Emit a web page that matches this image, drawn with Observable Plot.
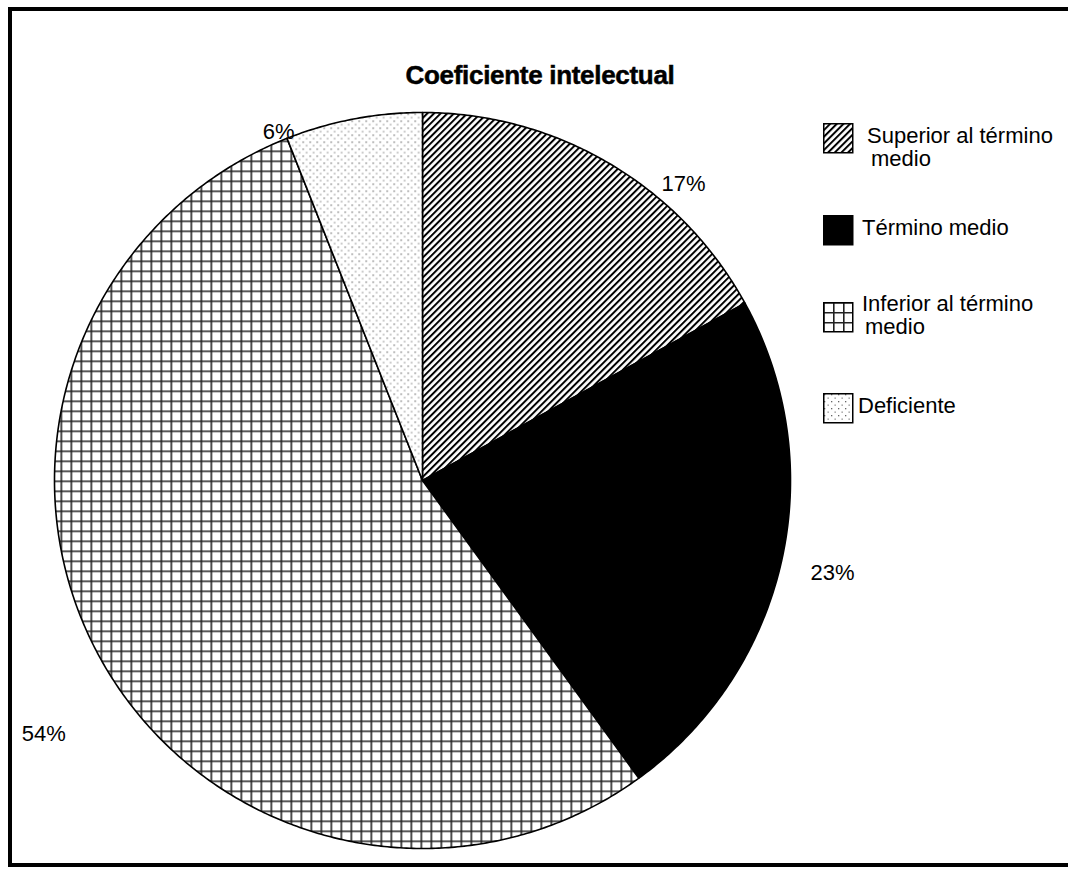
<!DOCTYPE html>
<html>
<head>
<meta charset="utf-8">
<script src="https://cdn.jsdelivr.net/npm/d3@7"></script>
<script src="https://cdn.jsdelivr.net/npm/@observablehq/plot@0.6"></script>
<style>
  html, body { margin: 0; padding: 0; background: #fff; overflow: hidden; }
  #frame { position: relative; width: 1068px; height: 870px; overflow: hidden;
           font-family: "Liberation Sans", Arial, sans-serif; color: #000; }
  #border { position: absolute; left: 8px; top: 7px; width: 1100px; height: 852px;
            border: 4px solid #000; border-right: none; box-sizing: content-box; }
  #title { position: absolute; left: 0; width: 1080px; top: 60px; text-align: center;
           font-weight: bold; font-size: 26px; letter-spacing: -0.3px;
           -webkit-text-stroke: 0.5px #000; }
  #chart { position: absolute; left: 0; top: 0; }
  .item { position: absolute; font-size: 22px; line-height: 23px; }
  .item svg { position: absolute; left: 0; overflow: visible; }
  .item span { position: absolute; white-space: nowrap; }
</style>
</head>
<body>
<svg width="0" height="0" style="position:absolute">
  <defs>
    <pattern id="hatch" width="4.7" height="4.7" patternUnits="userSpaceOnUse" patternTransform="rotate(45)">
      <rect width="4.7" height="4.7" fill="#fff"/>
      <line x1="1" y1="0" x2="1" y2="4.7" stroke="#000" stroke-width="2"/>
    </pattern>
    <pattern id="grid" width="10" height="10" patternUnits="userSpaceOnUse">
      <rect width="10" height="10" fill="#fff"/>
      <path d="M0.8 0V10M0 0.8H10" stroke="#222" stroke-width="1.6"/>
    </pattern>
    <pattern id="dots" width="7" height="7" patternUnits="userSpaceOnUse">
      <rect width="7" height="7" fill="#fff"/>
      <rect x="1" y="1" width="1.3" height="1.3" fill="#666"/>
      <rect x="4.5" y="4.5" width="1.3" height="1.3" fill="#888"/>
    </pattern>
  </defs>
</svg>
<div id="frame">
  <div id="border"></div>
  <div id="title">Coeficiente intelectual</div>
  <div id="chart"></div>
  <div id="legend"></div>
</div>
<script>
// Intelligence quotient groups and their share (%)
const categories = [
  "Superior al término medio",
  "Término medio",
  "Inferior al término medio",
  "Deficiente"
];
const percents = [17, 23, 54, 6];
const fills = ["url(#hatch)", "#000", "url(#grid)", "url(#dots)"];

// Slice angles, clockwise from twelve o'clock
const total = d3.sum(percents);
let acc = 0;
const slices = categories.map((name, i) => {
  const a0 = acc / total * 2 * Math.PI;
  acc += percents[i];
  const a1 = acc / total * 2 * Math.PI;
  return {name, value: percents[i], a0, a1, mid: (a0 + a1) / 2};
});

// Outline of each wedge in unit-circle coordinates
const wedgePoints = slices.flatMap(s => {
  const n = Math.max(2, Math.ceil((s.a1 - s.a0) / (Math.PI / 360)));
  const pts = [{name: s.name, x: 0, y: 0}];
  for (let k = 0; k <= n; ++k) {
    const a = s.a0 + (s.a1 - s.a0) * k / n;
    pts.push({name: s.name, x: Math.sin(a), y: Math.cos(a)});
  }
  pts.push({name: s.name, x: 0, y: 0});
  return pts;
});

// Per-label pixel nudges for the percentage labels
const labelNudge = [[55, 52], [15, 4], [-24, 58], [-68, 49]];
const labelRadius = 1.1;

const plot = Plot.plot({
  width: 1068,
  height: 870,
  marginLeft: 54,
  marginRight: 278,
  marginTop: 112,
  marginBottom: 22,
  x: {domain: [-1, 1], axis: null},
  y: {domain: [-1, 1], axis: null},
  color: {type: "ordinal", domain: categories, range: fills},
  style: {fontFamily: "Liberation Sans, Arial, sans-serif", background: "transparent"},
  marks: [
    Plot.line(wedgePoints, {
      x: "x", y: "y", z: "name", fill: "name",
      stroke: "#000", strokeWidth: 1.6, strokeLinejoin: "round", curve: "linear"
    }),
    ...slices.map((s, i) => Plot.text([s], {
      x: d => Math.sin(d.mid) * labelRadius,
      y: d => Math.cos(d.mid) * labelRadius,
      text: d => `${d.value}%`,
      dx: labelNudge[i][0],
      dy: labelNudge[i][1],
      fontSize: 22,
      fill: "#000"
    }))
  ]
});
document.getElementById("chart").appendChild(plot);

// Legend built from the plot's own color scale
const color = plot.scale("color");
const legendLayout = [
  {top: 123, box: 0, lines: [["Superior al término", 44], ["medio", 48]]},
  {top: 215, box: 0, lines: [["Término medio", 39]]},
  {top: 291, box: 11, lines: [["Inferior al término", 39], ["medio", 42]]},
  {top: 393, box: 0, lines: [["Deficiente", 35]]}
];
const legend = document.getElementById("legend");
color.domain.forEach((name, i) => {
  const L = legendLayout[i];
  const item = document.createElement("div");
  item.className = "item";
  item.style.left = "823px";
  item.style.top = L.top + "px";
  const sw = d3.create("svg").attr("width", 31).attr("height", 31)
    .style("top", L.box + "px");
  sw.append("rect").attr("x", 0.75).attr("y", 0.75).attr("width", 29).attr("height", 29)
    .attr("fill", color.apply(name)).attr("stroke", "#000").attr("stroke-width", 1.5);
  item.appendChild(sw.node());
  L.lines.forEach(([t, x], k) => {
    const sp = document.createElement("span");
    sp.textContent = t;
    sp.style.left = x + "px";
    sp.style.top = (k * 23 + 1) + "px";
    item.appendChild(sp);
  });
  legend.appendChild(item);
});
</script>
</body>
</html>
